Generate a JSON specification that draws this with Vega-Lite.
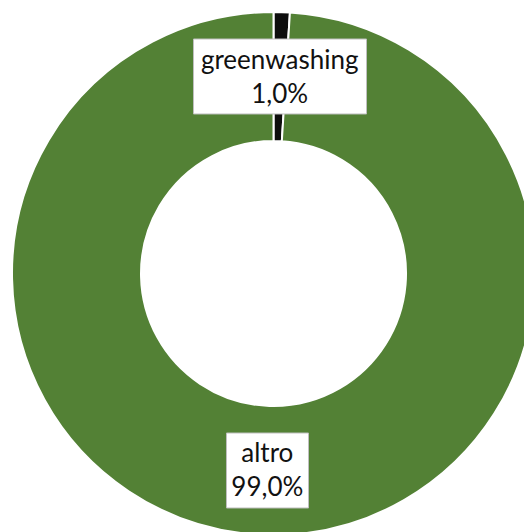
{
  "$schema": "https://vega.github.io/schema/vega-lite/v6.json",
  "width": 547,
  "height": 547,
  "autosize": "none",
  "padding": {"left": 0, "top": 0, "right": -23, "bottom": -15},
  "background": "white",
  "config": {"view": {"stroke": null}},
  "data": {
    "values": [
      {"category": "greenwashing", "share": 1.0, "label": "greenwashing\n1,0%"},
      {"category": "altro", "share": 99.0, "label": "altro\n99,0%"}
    ]
  },
  "layer": [
    {
      "mark": {"type": "arc", "outerRadius": 261.5, "innerRadius": 132.5, "stroke": "white", "strokeWidth": 2},
      "encoding": {
        "theta": {"field": "share", "type": "quantitative", "stack": true},
        "order": {"field": "category", "type": "ordinal", "sort": "descending"},
        "color": {
          "field": "category",
          "type": "nominal",
          "scale": {"domain": ["greenwashing", "altro"], "range": ["#0d0d0d", "#538135"]},
          "legend": null
        }
      }
    },
    {
      "mark": {"type": "point", "filled": true, "fill": "white", "stroke": "#bfbfbf", "strokeWidth": 1, "opacity": 1, "size": 29929},
      "encoding": {
        "x": {"field": "category", "type": "nominal", "axis": null,
              "scale": {"type": "point", "domain": ["greenwashing", "altro"], "range": [280, 267.5], "padding": 0}},
        "y": {"field": "category", "type": "nominal", "axis": null,
              "scale": {"type": "point", "domain": ["greenwashing", "altro"], "range": [76.5, 470.5], "padding": 0}},
        "shape": {
          "field": "category",
          "type": "nominal",
          "legend": null,
          "scale": {
            "domain": ["greenwashing", "altro"],
            "range": ["M-1,-0.4335L1,-0.4335L1,0.4335L-1,0.4335Z", "M-0.474,-0.4335L0.474,-0.4335L0.474,0.4335L-0.474,0.4335Z"]
          }
        }
      }
    },
    {
      "mark": {"type": "text", "radius": 197, "dy": -16, "font": "Lato", "fontSize": 26, "lineBreak": "\n", "lineHeight": 34, "fill": "#111111", "baseline": "middle", "align": "center"},
      "encoding": {
        "theta": {"field": "share", "type": "quantitative", "stack": true},
        "order": {"field": "category", "type": "ordinal", "sort": "descending"},
        "text": {"field": "label"}
      }
    }
  ]
}
